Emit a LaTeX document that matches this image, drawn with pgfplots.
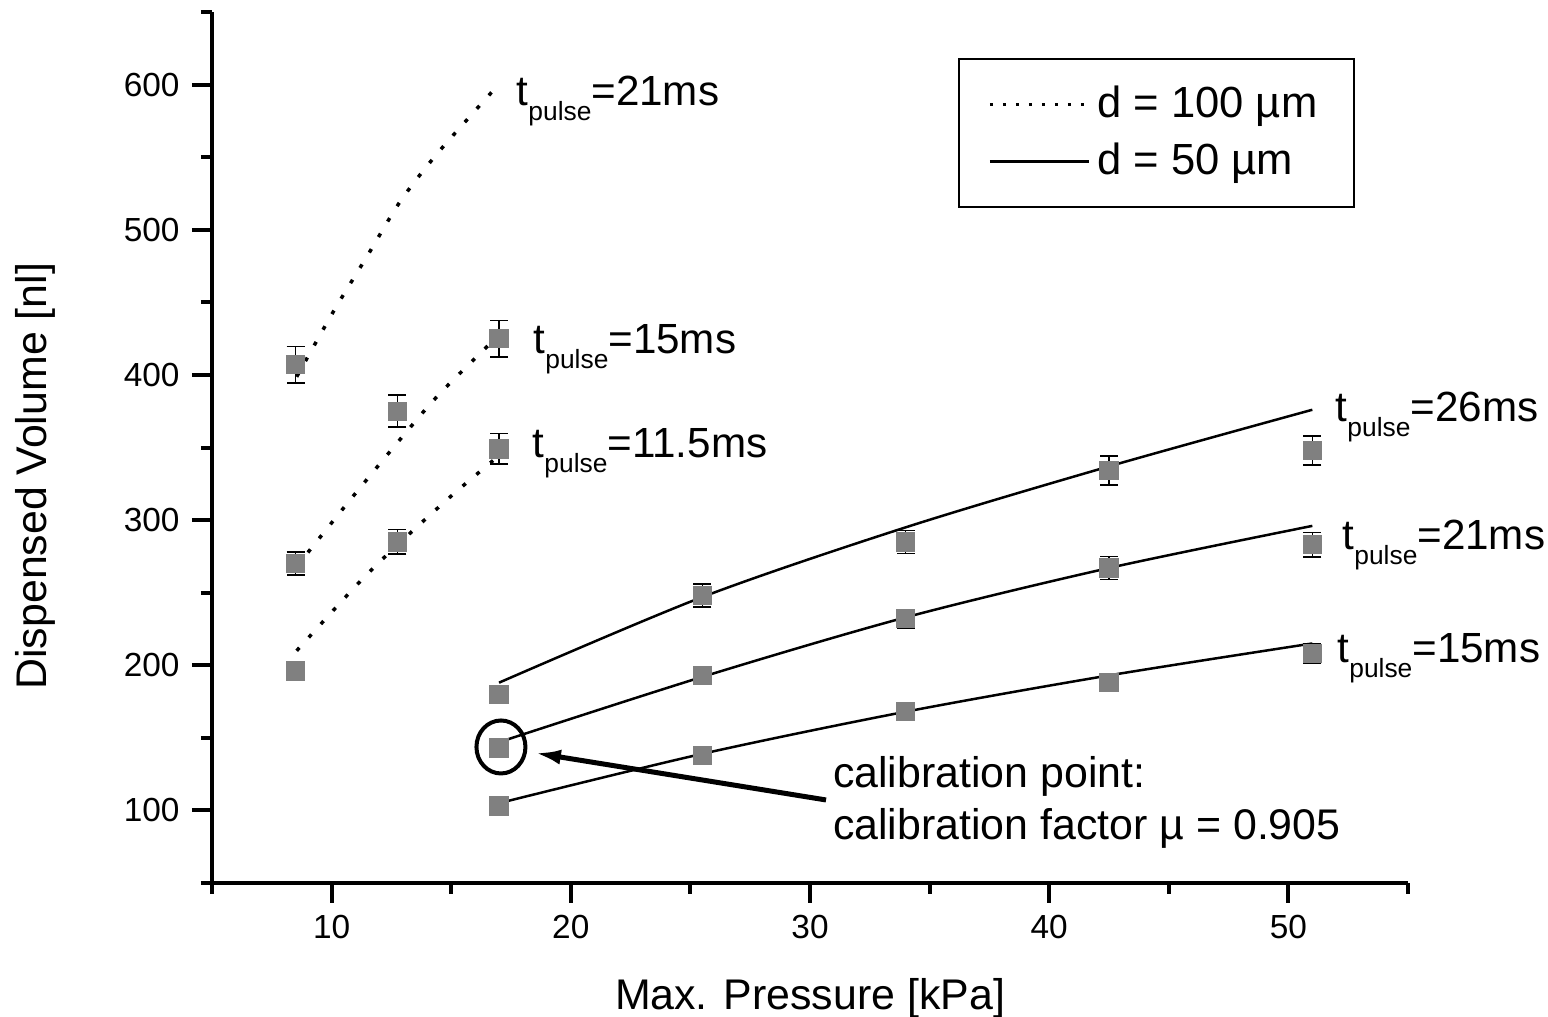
\documentclass[border=0pt]{standalone}
\usepackage{pgfplots}
\pgfplotsset{compat=1.18}
\usepackage{fontspec}
\setmainfont{Liberation Sans}
\usetikzlibrary{arrows.meta}
\definecolor{markgray}{RGB}{128,128,128}
\newcommand{\tp}[1]{{\fontsize{12}{14}\selectfont t\raisebox{-1.5mm}{\fontsize{7.5}{9}\selectfont pulse}=#1}}
\begin{document}
\begin{tikzpicture}
\begin{axis}[
  scale only axis, width=119.6mm, height=87.1mm,
  xmin=5, xmax=55, ymin=50, ymax=650,
  axis lines=left, axis line style={-, line width=0.45mm},
  clip=false,
  tick align=outside,
  major tick length=2mm, minor tick length=1.1mm,
  every tick/.style={black, line width=0.4mm},
  xtick={10,20,30,40,50}, minor xtick={5,15,25,35,45,55},
  ytick={100,200,300,400,500,600}, minor ytick={50,150,250,350,450,550,650},
  ticklabel style={font=\fontsize{9.5}{11}\selectfont},
  /pgf/number format/assume math mode=true,
  xlabel={Max. Pressure [kPa]},
  ylabel={Dispensed Volume [nl]},
  xlabel style={font=\fontsize{12.2}{14}\selectfont, at={(axis description cs:0.5,-0.132)}, anchor=center},
  ylabel style={font=\fontsize{12.2}{14}\selectfont, at={(axis description cs:-0.148,0.467)}, anchor=center},
  legend style={at={(rel axis cs:0.6235,0.947)}, anchor=north west, draw=black, line width=0.2mm,
    inner xsep=3mm, inner ysep=2mm, font=\fontsize{12.4}{14}\selectfont, row sep=0.6mm},
  legend cell align=left,
  legend image code/.code={\draw[#1] (0mm,0mm) -- (9.9mm,0mm);},
]
\addlegendimage{black, line width=0.25mm, dash pattern=on 0.35mm off 0.95mm}
\addlegendentry{d = 100 µm}
\addlegendimage{black, line width=0.25mm}
\addlegendentry{d = 50 µm}

% d = 100 um fit lines (dotted)
\addplot[black, line width=0.35mm, dash pattern=on 0.4mm off 1.4mm, smooth, forget plot] coordinates {
 (8.54,398.7) (10.07,443.5) (11.47,481.4) (12.86,519.3) (14.25,549.2) (15.65,575.6) (17.0,600.4)};
\addplot[black, line width=0.35mm, dash pattern=on 0.4mm off 1.4mm, smooth, forget plot] coordinates {
 (8.54,268) (10.77,313.8) (13.08,359.8) (14.54,387.4) (16.9,426)};
\addplot[black, line width=0.35mm, dash pattern=on 0.4mm off 1.4mm, smooth, forget plot] coordinates {
 (8.54,210) (11.12,256.5) (12.8,283.6) (14.96,316) (16.75,341)};

% d = 50 um fit lines (solid)
\addplot[black, line width=0.25mm, smooth, forget plot] coordinates {
 (17,188) (25.5,247) (34,295) (42.5,337) (51,376)};
\addplot[black, line width=0.25mm, smooth, forget plot] coordinates {
 (17,147) (25.5,192) (34,233) (42.5,267) (51,296)};
\addplot[black, line width=0.25mm, smooth, forget plot] coordinates {
 (17,105) (25.5,139) (34,168) (42.5,193) (51,215)};

% measured points
\addplot[markgray, only marks, mark=square*, mark size=0.92mm, mark options={fill=markgray, draw=markgray, line width=0pt}, forget plot,
  error bars/.cd, y dir=both, y explicit,
  error bar style={line width=0.15mm, black},
  error mark options={rotate=90, mark size=0.9mm, line width=0.15mm, black}]
  table[x=x, y=y, y error=e] {
x y e
8.5 407 12.5
8.5 270 8
8.5 196 6
12.75 375 11
12.75 285 8.5
17 425 12.5
17 349 10.5
17 180 6
17 143 5
17 103 5
25.5 248 8
25.5 193 6
25.5 138 5
34 285 8
34 232 6.5
34 168 5.5
42.5 334 10
42.5 267 8
42.5 188 6
51 348 10
51 283 8.5
51 208 6.5
};

% annotations
\node[anchor=base west, inner sep=0] at (axis cs:17.71,585.9) {\tp{21ms}};
\node[anchor=base west, inner sep=0] at (axis cs:18.42,415.1) {\tp{15ms}};
\node[anchor=base west, inner sep=0] at (axis cs:18.38,342.8) {\tp{11.5ms}};
\node[anchor=base west, inner sep=0] at (axis cs:51.95,368.2) {\tp{26ms}};
\node[anchor=base west, inner sep=0] at (axis cs:52.24,279.4) {\tp{21ms}};
\node[anchor=base west, inner sep=0] at (axis cs:52.03,202.2) {\tp{15ms}};

\node[anchor=base west, inner sep=0, font=\fontsize{12.2}{14}\selectfont] at (axis cs:30.94,115.8) {calibration point:};
\node[anchor=base west, inner sep=0, font=\fontsize{12.2}{14}\selectfont] at (axis cs:30.94,80.0) {calibration factor µ = 0.905};
\draw[line width=0.5mm, -{Latex[length=2.6mm,width=1.5mm]}] (axis cs:30.67,107.2) -- (axis cs:18.5,139.6);
\draw[line width=0.4mm] (axis cs:17.08,143.7) ellipse [x radius=2.45mm, y radius=2.65mm];
\end{axis}
\pgfresetboundingbox
\path[use as bounding box] ([shift={(-21.2mm,-13.4mm)}]current axis.origin) rectangle ++(154.8mm,101.7mm);
\end{tikzpicture}
\end{document}
